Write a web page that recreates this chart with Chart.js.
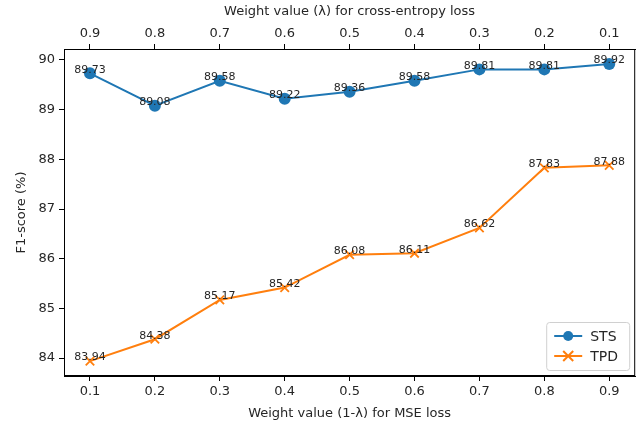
<!DOCTYPE html>
<html>
<head>
<meta charset="utf-8">
<script src="https://cdn.jsdelivr.net/npm/chart.js@4"></script>
<style>
  html, body { margin: 0; padding: 0; background: #fff; }
  #wrap { width: 643px; height: 421px; }
</style>
</head>
<body>
<div id="wrap"><canvas id="chart" width="643" height="421"></canvas></div>
<script>
const mseWeights = [0.1, 0.2, 0.3, 0.4, 0.5, 0.6, 0.7, 0.8, 0.9];
const ceWeights = [0.9, 0.8, 0.7, 0.6, 0.5, 0.4, 0.3, 0.2, 0.1];
const stsScores = [89.73, 89.08, 89.58, 89.22, 89.36, 89.58, 89.81, 89.81, 89.92];
const tpdScores = [83.94, 84.38, 85.17, 85.42, 86.08, 86.11, 86.62, 87.83, 87.88];
const yTicks = [84, 85, 86, 87, 88, 89, 90];

const FONT = 'DejaVu Sans';
const TEXT = '#262626';

// point labels above each marker
const valueLabels = {
    id: 'valueLabels',
    afterDatasetsDraw(chart) {
        const c = chart.ctx;
        c.save();
        c.font = '11px ' + FONT;
        c.fillStyle = TEXT;
        c.textAlign = 'center';
        c.textBaseline = 'bottom';
        chart.data.datasets.forEach((ds, i) => {
            chart.getDatasetMeta(i).data.forEach((pt, j) => {
                c.fillText(ds.data[j].y.toFixed(2), pt.x, pt.y + 2);
            });
        });
        c.restore();
    }
};

// axes box + legend in lower right corner
const frameAndLegend = {
    id: 'frameAndLegend',
    afterDraw(chart) {
        const c = chart.ctx;
        const a = chart.chartArea;
        c.save();
        c.strokeStyle = '#000';
        c.lineWidth = 1;
        c.strokeRect(a.left + 0.5, a.top + 0.5, a.right - a.left - 1, a.bottom - a.top - 1);

        const bx = a.right - 89, by = a.bottom - 54, bw = 83, bh = 48;
        c.fillStyle = 'rgba(255,255,255,0.8)';
        c.strokeStyle = '#d0d0d0';
        c.beginPath();
        c.roundRect(bx + 0.5, by + 0.5, bw, bh, 3);
        c.fill();
        c.stroke();

        c.font = '14px ' + FONT;
        c.textBaseline = 'middle';
        c.textAlign = 'left';
        chart.data.datasets.forEach((ds, i) => {
            const y = by + 14 + i * 20;
            c.strokeStyle = ds.borderColor;
            c.lineWidth = 2;
            c.beginPath();
            c.moveTo(bx + 8, y);
            c.lineTo(bx + 36, y);
            c.stroke();
            if (i === 0) {
                c.fillStyle = ds.borderColor;
                c.beginPath();
                c.arc(bx + 22, y, 5, 0, Math.PI * 2);
                c.fill();
            } else {
                c.beginPath();
                c.moveTo(bx + 17, y - 5); c.lineTo(bx + 27, y + 5);
                c.moveTo(bx + 27, y - 5); c.lineTo(bx + 17, y + 5);
                c.stroke();
            }
            c.fillStyle = TEXT;
            c.fillText(ds.label, bx + 44, y + 1);
        });
        c.restore();
    }
};

const tickOpts = { color: TEXT, font: { family: FONT, size: 13 } };
const gridOpts = { drawOnChartArea: false, drawTicks: true, tickLength: 5, color: '#000', tickColor: '#000' };

new Chart(document.getElementById('chart'), {
    type: 'line',
    data: {
        datasets: [
            {
                label: 'STS',
                data: mseWeights.map((x, i) => ({ x: x, y: stsScores[i] })),
                borderColor: '#1f77b4',
                backgroundColor: '#1f77b4',
                borderWidth: 2,
                pointStyle: 'circle',
                pointRadius: 6,
                pointBorderWidth: 0
            },
            {
                label: 'TPD',
                data: mseWeights.map((x, i) => ({ x: x, y: tpdScores[i] })),
                borderColor: '#ff7f0e',
                backgroundColor: '#ff7f0e',
                borderWidth: 2,
                pointStyle: 'crossRot',
                pointRadius: 6,
                pointBorderWidth: 1.8
            }
        ]
    },
    options: {
        responsive: false,
        animation: false,
        layout: { padding: { left: 0, right: 4, top: 0, bottom: 0 } },
        plugins: {
            legend: { display: false },
            tooltip: { enabled: false }
        },
        scales: {
            x: {
                type: 'linear',
                position: 'bottom',
                min: 0.06,
                max: 0.94,
                afterBuildTicks: s => { s.ticks = mseWeights.map(v => ({ value: v })); },
                afterFit: s => { s.height = 45; },
                ticks: { ...tickOpts, padding: 3, callback: v => v.toFixed(1) },
                grid: gridOpts,
                border: { display: true, color: '#000' },
                title: { display: true, text: 'Weight value (1-λ) for MSE loss', color: TEXT, font: { family: FONT, size: 13 }, padding: { top: 0, bottom: 0 } }
            },
            x2: {
                type: 'linear',
                position: 'top',
                reverse: true,
                min: 0.06,
                max: 0.94,
                afterBuildTicks: s => { s.ticks = ceWeights.map(v => ({ value: v })); },
                afterFit: s => { s.height = 49; },
                ticks: { ...tickOpts, padding: 3, callback: v => v.toFixed(1) },
                grid: gridOpts,
                border: { display: true, color: '#000' },
                title: { display: true, text: 'Weight value (λ) for cross-entropy loss', color: TEXT, font: { family: FONT, size: 13 }, padding: { top: 4, bottom: 0 } }
            },
            y: {
                type: 'linear',
                min: 83.64,
                max: 90.22,
                afterBuildTicks: s => { s.ticks = yTicks.map(v => ({ value: v })); },
                afterFit: s => { s.width = 64; },
                ticks: { ...tickOpts, padding: 4 },
                grid: gridOpts,
                border: { display: true, color: '#000' },
                title: { display: true, text: 'F1-score (%)', color: TEXT, font: { family: FONT, size: 13 }, padding: { top: 14, bottom: 0 } }
            }
        }
    },
    plugins: [valueLabels, frameAndLegend]
});
</script>
</body>
</html>
